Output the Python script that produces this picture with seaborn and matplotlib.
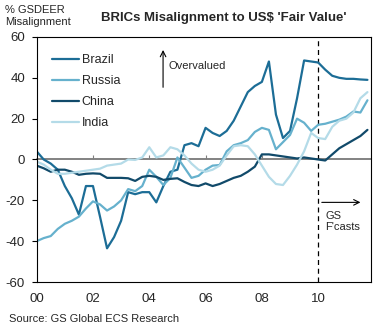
import numpy as np
import pandas as pd
import matplotlib
matplotlib.use("Agg")
import matplotlib.pyplot as plt
import seaborn as sns

# ---- data (quarterly, 2000Q1 .. 2011Q4) ----
quarters = [2000 + k / 4 for k in range(48)]
brazil = [4, 0, -2, -5, -13, -19, -27, -13, -13, -28, -43.5, -38, -30, -16, -17, -16,
          -16, -21, -13, -6, -5, 7, 8, 6.5, 15.5, 13, 11.5, 14, 19, 26, 33, 36,
          38, 48, 22, 10.5, 14, 30, 48.5, 48, 47.5, 44, 41, 40, 39.5, 39.5, 39.2, 39]
russia = [-40, -38.5, -37.5, -34, -31.5, -30, -28, -24, -20.5, -22, -25, -23, -20, -14.5, -15.5, -13,
          -5, -8.5, -12.5, -9, 1, -4, -9, -8, -5, -3, -2.7, 4, 7, 8, 9.5, 13.5,
          15.5, 14.5, 5, 8.5, 12, 20, 18, 14, 17, 17.5, 18.5, 19.5, 21, 23.5, 23, 29]
china = [-3, -4.3, -6, -5, -5, -6, -7.5, -7, -6.8, -7, -9, -9, -9, -9.2, -10.5, -8.5,
         -8, -8.5, -10, -9.5, -9.2, -11, -12.5, -13, -11.7, -13, -12, -10.5, -9, -8, -6, -3.5,
         2.5, 2.5, 2, 1.5, 1, 0.5, 1, 0.5, 0, -0.5, 2.5, 5.5, 7.5, 9.5, 11.5, 14.5]
india = [-1, -2.5, -5, -7, -7, -6.5, -6, -5.5, -5, -4.5, -3, -2.5, -2, 0, -0.2, 1,
         6, 1, 2, 6, 5, 2, -2, -5, -6, -5, -3, 2, 6.5, 7, 6.5, 2.5,
         -3, -8.5, -12, -12.5, -8, -2.5, 4, 13, 10.5, 10, 16, 19, 20, 23, 30, 33]
countries = ["Brazil", "Russia", "China", "India"]
colors = ["#1c6d96", "#66b1cd", "#114a6a", "#b4dbe8"]
year_ticks = [2000, 2002, 2004, 2006, 2008, 2010]
year_labels = ["00", "02", "04", "06", "08", "10"]
y_ticks = [60, 40, 20, 0, -20, -40, -60]

df = pd.DataFrame({
    "year": quarters * 4,
    "value": brazil + russia + china + india,
    "country": sum([[c] * len(quarters) for c in countries], []),
})

sns.set_style("white")
plt.rcParams["font.family"] = ["Liberation Sans", "DejaVu Sans"]

fig = plt.figure(figsize=(3.78, 3.32), dpi=100)
ax = fig.add_axes([0.097, 0.1506, 0.884, 0.738])

sns.lineplot(data=df, x="year", y="value", hue="country", hue_order=countries,
             palette=colors, linewidth=1.6, ax=ax, legend=True)

ax.set_xlim(2000, 2011.87)
ax.set_ylim(-60, 60)
ax.set_yticks(y_ticks)
ax.set_yticklabels([str(v) for v in y_ticks])
ax.set_xticks(year_ticks)
ax.set_xticklabels(year_labels)
ax.set_xlabel("")
ax.set_ylabel("")
ax.tick_params(axis="y", direction="out", length=3.6, width=0.8, pad=4.8,
               labelsize=9.5, color="black", left=True)
ax.tick_params(axis="x", length=0, pad=8, labelsize=9.5)
for s in ax.spines.values():
    s.set_visible(True)
    s.set_color("black")
    s.set_linewidth(0.8)

# zero line with small upward ticks
ax.axhline(0, color="#7f7f7f", lw=1.1, zorder=1)
sec = ax.secondary_xaxis(0.5)
sec.set_xticks([2002, 2004, 2006, 2008])
sec.set_xticklabels([])
sec.xaxis.set_ticks_position("top")
sec.tick_params(axis="x", top=True, bottom=False, direction="out", length=3,
                width=0.8, color="#7f7f7f")
for s in sec.spines.values():
    s.set_color("#7f7f7f")
    s.set_linewidth(1.1)

# forecast divider
ax.axvline(2010, color="black", lw=0.9, ls=(0, (4, 3)), zorder=1)

# legend
handles, labels = ax.get_legend_handles_labels()
leg = ax.legend(handles, labels, loc="upper left", bbox_to_anchor=(0.045, 0.93),
                frameon=False, fontsize=9, handlelength=2.2, handletextpad=0.2,
                labelspacing=0.72, borderpad=0, borderaxespad=0)

# annotations
ax.annotate("", xy=(2004.49, 55), xytext=(2004.49, 34),
            arrowprops=dict(arrowstyle="->", color="black", lw=0.8))
ax.text(2004.67, 45.8, "Overvalued", fontsize=8, va="center", ha="left")
ax.annotate("", xy=(2011.6, -21), xytext=(2010.03, -21),
            arrowprops=dict(arrowstyle="->", color="black", lw=0.8))
ax.text(2010.26, -25.0, "GS\nF'casts", fontsize=8, va="top", ha="left", linespacing=1.15)

fig.text(5 / 378, 1 - 10 / 332, "% GSDEER", fontsize=8, va="center", ha="left")
fig.text(5 / 378, 1 - 22.3 / 332, "Misalignment", fontsize=8, va="center", ha="left")
fig.text(224 / 378, 1 - 18 / 332, "BRICs Misalignment to US$ 'Fair Value'",
         fontsize=9.5, fontweight="bold", va="center", ha="center")
fig.text(9 / 378, 1 - 319 / 332, "Source: GS Global ECS Research", fontsize=8,
         va="center", ha="left")

fig.savefig("out.png", dpi=100)
